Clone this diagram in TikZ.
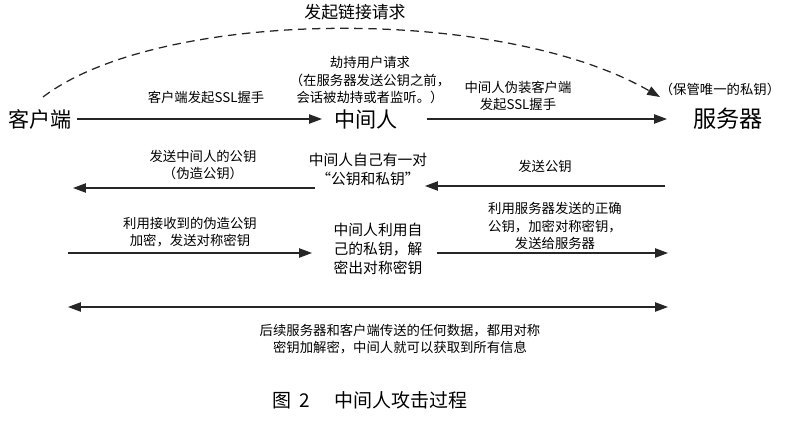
\documentclass[tikz,border=0pt]{standalone}
\usepackage{fontspec}
\newfontfamily\cjk{Noto Sans CJK SC}
\usetikzlibrary{arrows.meta}

\begin{document}
\begin{tikzpicture}[x=0.025cm, y=-0.025cm, font=\cjk\fontsize{9.5}{12}\selectfont,
    ent/.style={font=\cjk\fontsize{15}{18}\selectfont},
    sm/.style={align=center, font=\cjk\fontsize{9.5}{12.2}\selectfont},
    md/.style={align=center, font=\cjk\fontsize{10.5}{13.6}\selectfont},
    arr/.style={-{Triangle[length=3.2mm, width=2.3mm]}, line width=0.9pt, draw=black!85}]
    \useasboundingbox (0,0) rectangle (805,427);
    % the three parties
    \node[ent] (cli) at (40,119) {客户端};
    \node[ent] (mim) at (366,119) {中间人};
    \node[ent, font=\cjk\fontsize{16.5}{18}\selectfont] (srv) at (728,119) {服务器};
    % arrow ends
    \coordinate (c1) at (77,119);  \coordinate (m1) at (322,119);
    \coordinate (m1r) at (427,119); \coordinate (s1) at (667,119);
    \coordinate (m2) at (315,188); \coordinate (c2) at (73,188);
    \coordinate (s2) at (665,186); \coordinate (m2r) at (425,186);
    \coordinate (c3) at (68,253);  \coordinate (m3) at (312,253);
    \coordinate (m3r) at (437,253); \coordinate (s3) at (668,253);
    \coordinate (c4) at (68,307);  \coordinate (s4) at (668,307);
    \coordinate (da) at (43,97);   \coordinate (db) at (660,97);
    % request
    \node (req) at (355,12) {\fontsize{12}{14}\selectfont 发起链接请求};
    \draw[arr, dash pattern=on 6pt off 4pt] (da) .. controls (160,8) and (500,5) .. (db);
    % row 1
    \node[sm] (t1) at (206,97) {客户端发起SSL握手};
    \node[sm] (t2) at (370,80) {劫持用户请求\\（在服务器发送公钥之前，\\会话被劫持或者监听。）};
    \node[sm] (t3) at (518,96) {中间人伪装客户端\\发起SSL握手};
    \node[sm] (t4) at (720,89) {（保管唯一的私钥）};
    \draw[arr] (c1) -- (m1);
    \draw[arr] (m1r) -- (s1);
    % row 2
    \node[sm] (t5) at (203,165) {发送中间人的公钥\\（伪造公钥）};
    \node[md] (t6) at (368,169) {中间人自己有一对\\“公钥和私钥”};
    \node[sm] (t7) at (545,166) {发送公钥};
    \draw[arr] (m2) -- (c2);
    \draw[arr] (s2) -- (m2r);
    % row 3
    \node[sm] (t8) at (190,232) {利用接收到的伪造公钥\\加密，发送对称密钥};
    \node[md] (t9) at (378,249) {中间人利用自\\己的私钥，解\\密出对称密钥};
    \node[sm] (t10) at (555,226) {利用服务器发送的正确\\公钥，加密对称密钥，\\发送给服务器};
    \draw[arr] (c3) -- (m3);
    \draw[arr] (m3r) -- (s3);
    % row 4
    \draw[arr, {Triangle[length=3.2mm, width=2.3mm]}-{Triangle[length=3.2mm, width=2.3mm]}] (c4) -- (s4);
    \node[sm] (t11) at (400,339) {后续服务器和客户端传送的任何数据，都用对称\\密钥加解密，中间人就可以获取到所有信息};
    % caption
    \node (cap) at (370,400) {\fontsize{13.5}{16}\selectfont 图\hspace{0.45em}2\hspace{1.3em}中间人攻击过程};
\end{tikzpicture}
\end{document}
